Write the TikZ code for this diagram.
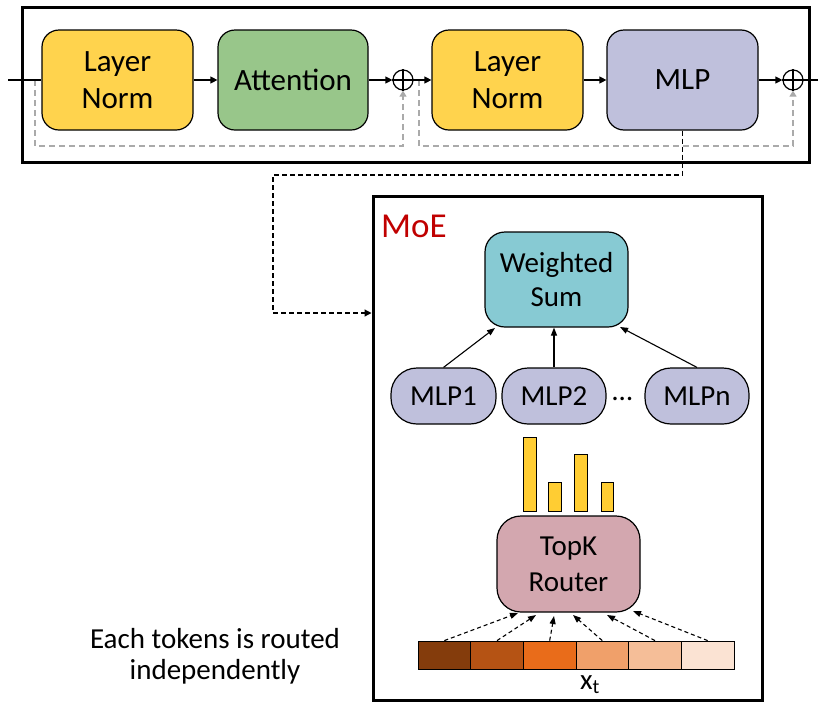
\documentclass[tikz,border=0pt]{standalone}
\usepackage{fontspec}
\setmainfont{Carlito}
\usetikzlibrary{arrows.meta,calc}
\definecolor{lnyellow}{HTML}{FFD34D}
\definecolor{attgreen}{HTML}{98C68A}
\definecolor{mlplav}{HTML}{BFC0DC}
\definecolor{wsteal}{HTML}{87CAD3}
\definecolor{routerpink}{HTML}{D3A7AF}
\definecolor{baryellow}{HTML}{FFCD33}
\definecolor{moered}{HTML}{C00000}
\definecolor{resgray}{HTML}{AAAAAA}
\definecolor{tokA}{HTML}{843C0C}
\definecolor{tokB}{HTML}{B55314}
\definecolor{tokC}{HTML}{E96C1A}
\definecolor{tokD}{HTML}{F0A06A}
\definecolor{tokE}{HTML}{F5BE98}
\definecolor{tokF}{HTML}{FBE3D3}
\begin{document}
\begin{tikzpicture}[x=1pt,y=-1pt,
  blockbox/.style={draw=black, line width=1.2pt, rounded corners=17pt, align=center,
    inner sep=0pt, font=\fontsize{31}{37}\selectfont, minimum height=100pt, minimum width=151pt},
  pill/.style={draw=black, line width=1.2pt, rounded corners=26pt, align=center, inner sep=0pt,
    fill=mlplav, font=\fontsize{29}{34}\selectfont, minimum width=105pt, minimum height=56pt},
  midbox/.style={draw=black, line width=1.2pt, rounded corners=20pt, align=center, inner sep=0pt,
    font=\fontsize{29}{34}\selectfont},
  frame/.style={draw=black, line width=3pt, inner sep=0pt},
  plusnode/.style={draw=black, circle, line width=1.2pt, minimum size=20pt, inner sep=0pt},
  mainarrow/.style={line width=1.2pt, -{Triangle[length=7pt,width=7pt]}},
  resarrow/.style={draw=resgray, line width=1.2pt, dash pattern=on 6pt off 4pt,
    -{Triangle[length=6pt,width=7pt]}},
  moearrow/.style={line width=1.2pt, dash pattern=on 5pt off 3pt, -{Triangle[length=7pt,width=7pt]}},
  exparrow/.style={line width=1.1pt, -{Triangle[length=8pt,width=6pt]}},
  tokarrow/.style={line width=1.1pt, dash pattern=on 4pt off 3pt, -{Triangle[length=8pt,width=6pt]}},
  bar/.style={draw=black, line width=0.8pt, fill=baryellow},
  tok/.style={draw=black, line width=0.8pt, minimum width=52.67pt, minimum height=28pt, inner sep=0pt}
]
\useasboundingbox (0,0) rectangle (818,702);

% transformer block frame
\node[frame, minimum width=787pt, minimum height=155pt] (blk) at (415.5,84.5) {};

\node[blockbox, fill=lnyellow] (ln1) at (117.5,80) {Layer\\Norm};
\node[blockbox, fill=attgreen, minimum width=150pt] (att) at (293,80) {Attention};
\node[plusnode] (p1) at (403,80) {};
\node[blockbox, fill=lnyellow] (ln2) at (507.5,80) {Layer\\Norm};
\node[blockbox, fill=mlplav] (mlp) at (682.5,80) {MLP};
\node[plusnode] (p2) at (793,80) {};
\draw[line width=1.2pt] (p1.north) -- (p1.south) (p1.west) -- (p1.east);
\draw[line width=1.2pt] (p2.north) -- (p2.south) (p2.west) -- (p2.east);

\coordinate (in) at (8,80);
\coordinate (out) at (818,80);
\coordinate (r1) at (35,80);
\coordinate (r2) at (419,80);

% residual paths
\draw[resarrow] (r1) -- (35,146) -| (p1.south);
\draw[resarrow] (r2) -- (419,146) -| (p2.south);

% main flow
\draw[line width=1.2pt] (in) -- (ln1.west);
\draw[mainarrow] (ln1.east) -- (att.west);
\draw[mainarrow] (att.east) -- (p1.west);
\draw[mainarrow] (p1.east) -- (ln2.west);
\draw[mainarrow] (ln2.east) -- (mlp.west);
\draw[mainarrow] (mlp.east) -- (p2.west);
\draw[line width=1.2pt] (p2.east) -- (out);

% MoE box
\node[frame, minimum width=389pt, minimum height=504pt] (moe) at (567.5,448) {};
\node[anchor=west, text=moered, font=\fontsize{35}{35}\selectfont, inner sep=0pt] (moelbl) at (381,226) {MoE};

\draw[moearrow] (mlp.south) -- (682.5,175) -- (273,175) -- (273,313) -- (moe.west |- 0,313);

% experts
\node[midbox, fill=wsteal, minimum width=143pt, minimum height=95pt] (ws) at (556.5,279.5) {Weighted\\Sum};
\node[pill] (e1) at (443.5,396) {MLP1};
\node[pill, minimum width=104pt] (e2) at (554,396) {MLP2};
\node[pill, minimum width=104pt] (en) at (697,396) {MLPn};
\node[anchor=base, font=\fontsize{29}{29}\selectfont, inner sep=0pt] (dots) at (622.5,400) {…};

\coordinate (w1) at (495,328);
\coordinate (w3) at (620,327);
\draw[exparrow] (e1.north) -- (w1);
\draw[exparrow] (e2.north) -- (e2.north |- ws.south);
\draw[exparrow] (en.north) -- (w3);

% gating bars
\draw[bar] (523,437) rectangle (536,511);
\draw[bar] (548,482) rectangle (561,511);
\draw[bar] (574,454) rectangle (587,511);
\draw[bar] (601,482) rectangle (613,511);

% router
\node[midbox, fill=routerpink, rounded corners=24pt, minimum width=143pt, minimum height=96pt,
  font=\fontsize{29}{36}\selectfont] (router) at (568.5,564) {TopK\\Router};

% token
\node[tok, fill=tokA] (c1) at (444.33,655) {};
\node[tok, fill=tokB] (c2) at (497,655) {};
\node[tok, fill=tokC] (c3) at (549.67,655) {};
\node[tok, fill=tokD] (c4) at (602.33,655) {};
\node[tok, fill=tokE] (c5) at (655,655) {};
\node[tok, fill=tokF] (c6) at (707.67,655) {};
\node[font=\fontsize{29}{29}\selectfont, inner sep=0pt] (xt) at (590,685) {x\textsubscript{t}};

\coordinate (a1) at (518,613);
\coordinate (a2) at (536,615);
\coordinate (a3) at (554,616);
\coordinate (a4) at (573,615);
\coordinate (a5) at (607,615);
\coordinate (a6) at (633,611);
\draw[tokarrow] (c1.north) -- (a1);
\draw[tokarrow] (c2.north) -- (a2);
\draw[tokarrow] (c3.north) -- (a3);
\draw[tokarrow] (c4.north) -- (a4);
\draw[tokarrow] (c5.north) -- (a5);
\draw[tokarrow] (c6.north) -- (a6);

\node[align=center, font=\fontsize{29}{31}\selectfont, inner sep=0pt] (note) at (215,656) {Each tokens is routed\\independently};
\end{tikzpicture}
\end{document}
